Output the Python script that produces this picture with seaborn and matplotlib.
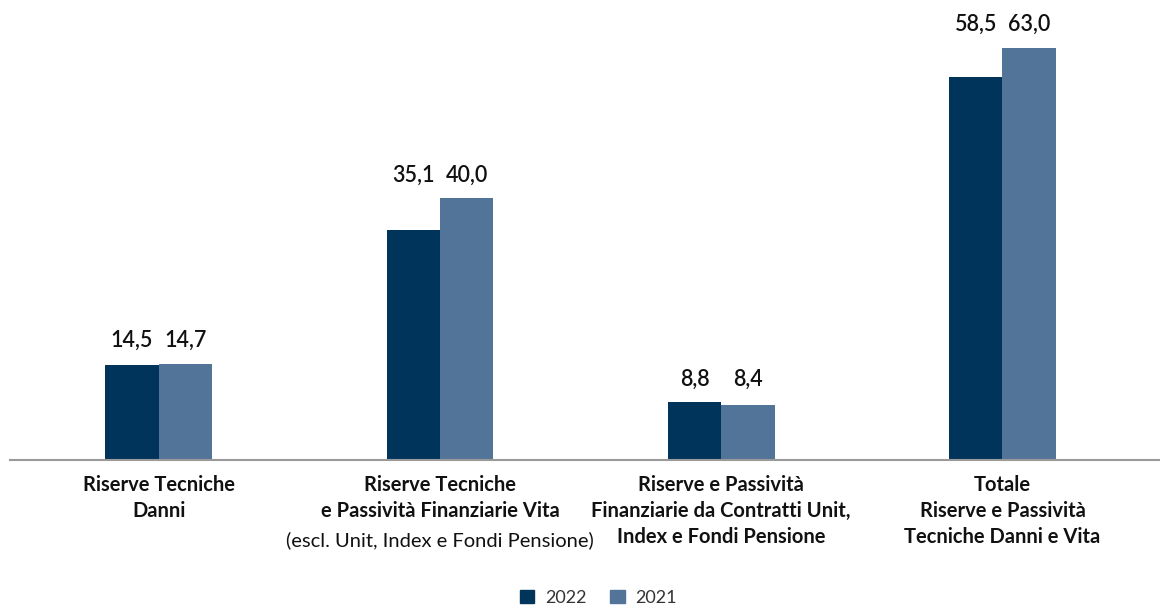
import pandas as pd
import matplotlib.pyplot as plt
import seaborn as sns

# --- data ---
categories = ['Danni', 'Vita', 'Unit', 'Totale']
labels_main = [
    'Riserve Tecniche\nDanni',
    'Riserve Tecniche\ne Passività Finanziarie Vita',
    'Riserve e Passività\nFinanziarie da Contratti Unit,\nIndex e Fondi Pensione',
    'Totale\nRiserve e Passività\nTecniche Danni e Vita',
]
label_note = '(escl. Unit, Index e Fondi Pensione)'
years = ['2022', '2021']
values_2022 = [14.5, 35.1, 8.8, 58.5]
values_2021 = [14.7, 40.0, 8.4, 63.0]

df = pd.DataFrame({
    'cat': categories * 2,
    'year': [years[0]] * 4 + [years[1]] * 4,
    'value': values_2022 + values_2021,
})

sns.set_style('white')
plt.rcParams['font.family'] = ['Lato', 'DejaVu Sans']

fig = plt.figure(figsize=(11.6, 6.05), dpi=100)
ax = fig.add_axes([0.009, 0.24, 0.991, 0.76])

palette = {'2022': '#01345B', '2021': '#537499'}
sns.barplot(data=df, x='cat', y='value', hue='year', hue_order=years,
            palette=palette, width=0.38, gap=0, saturation=1,
            edgecolor='none', linewidth=0, ax=ax, legend=False)

# value labels: both labels of a pair sit at the height of the taller bar
pair_max = [max(a, b) for a, b in zip(values_2022, values_2021)]
for cont in ax.containers:
    for bar, v, top in zip(cont.patches, cont.datavalues, pair_max):
        ax.annotate(f'{v:.1f}'.replace('.', ','),
                    (bar.get_x() + bar.get_width() / 2, top),
                    xytext=(0, 12), textcoords='offset points',
                    ha='center', va='baseline', fontsize=15.5,
                    fontweight='semibold', color='#111111')

ax.set_xlim(-0.527, 3.56)
ax.set_ylim(0, 70.3)
sns.despine(ax=ax, left=True, top=True, right=True)
ax.spines['bottom'].set_color('#9a9a9a')
ax.spines['bottom'].set_linewidth(1.5)
ax.set_yticks([])
ax.set_xticks([])
ax.set_xlabel('')
ax.set_ylabel('')

tr = ax.get_xaxis_transform()
for i, lab in enumerate(labels_main):
    ax.text(i, -0.033, lab, transform=tr, ha='center', va='top',
            fontsize=14.5, fontweight='bold', color='#111111', linespacing=1.37)
ax.text(1, -0.033 - 2 * 28 / 460, label_note, transform=tr, ha='center', va='top',
        fontsize=14.5, color='#111111')

handles = [plt.Rectangle((0, 0), 1, 1, color=palette[y]) for y in years]
fig.legend(handles, years, loc='center', bbox_to_anchor=(0.516, 0.012),
           ncol=2, frameon=False, fontsize=13, handlelength=0.8, handleheight=0.8,
           handletextpad=0.6, columnspacing=1.3, labelcolor='#333333')

fig.savefig('out.png', dpi=100)
